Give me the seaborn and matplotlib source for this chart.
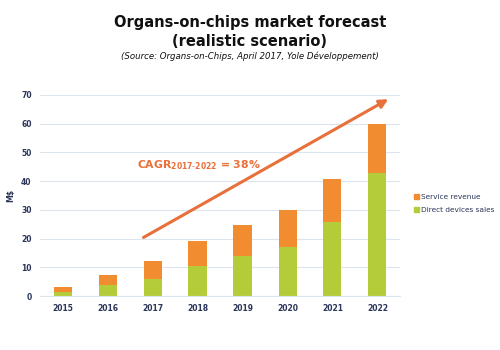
import matplotlib
matplotlib.use("Agg")
import matplotlib.pyplot as plt
import seaborn as sns
import pandas as pd
from matplotlib.patches import Patch

# Values (M$)
years = ["2015", "2016", "2017", "2018", "2019", "2020", "2021", "2022"]
direct_sales = [1.5, 3.7, 5.9, 10.3, 14.0, 17.2, 25.8, 42.7]
service_revenue = [1.8, 3.7, 6.2, 8.7, 10.8, 12.9, 14.8, 17.2]

orange = "#F28C30"
green = "#B5CC3A"
arrow_col = "#E8703A"
navy = "#2B3558"

df = pd.DataFrame({"Year": years, "Direct": direct_sales, "Service": service_revenue})
df["Total"] = df["Direct"] + df["Service"]

sns.set_style("white")
plt.rcParams["font.family"] = ["DejaVu Sans"]

fig = plt.figure(figsize=(5, 3.5), dpi=100)
ax = fig.add_axes([0.08, 0.154, 0.72, 0.575])

# stacked bars: total first (orange), then direct sales (green) on top
sns.barplot(data=df, x="Year", y="Total", color=orange, width=0.4, saturation=1,
            linewidth=0, ax=ax)
sns.barplot(data=df, x="Year", y="Direct", color=green, width=0.4, saturation=1,
            linewidth=0, ax=ax)

ax.set_ylim(0, 70)
ax.set_xlim(-0.5, 7.5)
ax.set_yticks(range(0, 71, 10))
ax.yaxis.grid(True, color="#DCE4EE", linewidth=0.8)
ax.set_axisbelow(True)
for s in ["top", "right", "left"]:
    ax.spines[s].set_visible(False)
ax.spines["bottom"].set_color("#DCE4EE")
ax.tick_params(axis="both", length=0, labelsize=5.5, labelcolor=navy, pad=6)
for lbl in ax.get_xticklabels() + ax.get_yticklabels():
    lbl.set_fontweight("semibold")
ax.set_xlabel("")
ax.set_ylabel("M$", fontsize=5.5, color=navy, labelpad=4, fontweight="bold")

# growth arrow
ax.annotate("", xy=(7.24, 68.5), xytext=(1.8, 20.4),
            arrowprops=dict(arrowstyle="-|>,head_length=0.5,head_width=0.25",
                            color=arrow_col, lw=2.2, shrinkA=0, shrinkB=0))
ax.text(1.65, 45.5, r"CAGR$_{\mathbf{2017}\text{-}\mathbf{2022}}$ = 38%",
        color=arrow_col, fontsize=7.8, fontweight="bold", va="center", ha="left")

# titles
fig.text(0.5, 0.908, "Organs-on-chips market forecast\n(realistic scenario)",
         ha="center", va="center", fontsize=10.5, fontweight="bold",
         linespacing=1.3, color="#111111")
fig.text(0.5, 0.838, "(Source: Organs-on-Chips, April 2017, Yole Développement)",
         ha="center", va="center", fontsize=6.2, style="italic", color="#111111")

handles = [Patch(color=orange, label="Service revenue"),
           Patch(color=green, label="Direct devices sales")]
fig.legend(handles=handles, loc="center left", bbox_to_anchor=(0.815, 0.418),
           frameon=False, fontsize=5.3, handlelength=0.6, handleheight=0.6,
           handletextpad=0.3, labelspacing=1.0, labelcolor=navy)

fig.savefig("out.png", dpi=100)
